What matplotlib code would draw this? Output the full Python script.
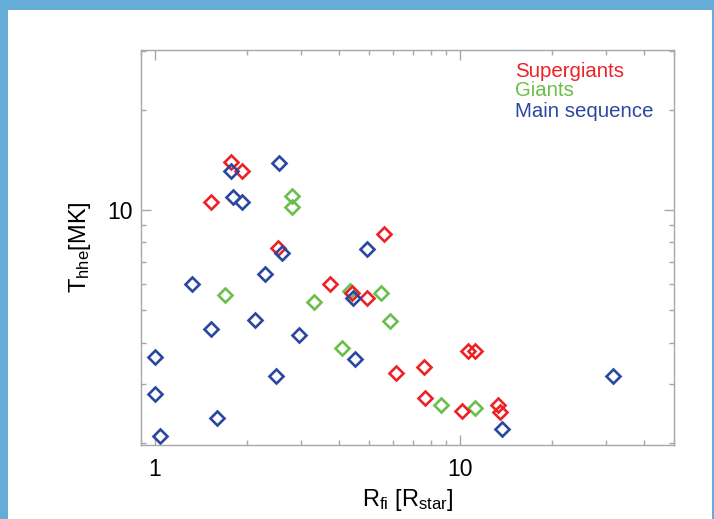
import matplotlib
matplotlib.use("Agg")
import matplotlib.pyplot as plt
from matplotlib.patches import Rectangle
from matplotlib.ticker import LogLocator, NullFormatter, FixedLocator, FixedFormatter

plt.rcParams['font.family'] = ['Liberation Sans', 'DejaVu Sans']
plt.rcParams['mathtext.fontset'] = 'custom'
plt.rcParams['mathtext.rm'] = 'Liberation Sans'
plt.rcParams['mathtext.it'] = 'Liberation Sans'

# ---- data ----
sg_r = [1.78, 1.92, 1.53, 5.60, 2.53, 3.73, 4.40, 4.96, 6.15, 7.61, 7.66, 10.62, 11.17, 10.13, 13.26, 13.49]
sg_t = [13.94, 13.12, 10.59, 8.47, 7.69, 6.01, 5.65, 5.45, 3.24, 3.38, 2.73, 3.77, 3.77, 2.50, 2.60, 2.47]

gi_r = [2.81, 2.81, 1.70, 4.35, 5.49, 3.31, 5.88, 4.10, 8.63, 11.17]
gi_t = [11.0, 10.19, 5.56, 5.70, 5.65, 5.30, 4.64, 3.86, 2.60, 2.54]

ms_r = [1.77, 2.55, 1.80, 1.92, 2.61, 4.96, 2.30, 1.32, 4.45, 2.12, 1.53, 2.97, 4.52, 1.00, 2.49, 1.00, 1.60, 1.04, 31.67, 13.66]
ms_t = [13.12, 13.87, 10.96, 10.57, 7.44, 7.64, 6.44, 5.98, 5.43, 4.67, 4.38, 4.20, 3.56, 3.62, 3.17, 2.80, 2.37, 2.10, 3.18, 2.20]

labels = ["Supergiants", "Giants", "Main sequence"]
RED = '#ec2227'
GREEN = '#6abf4b'
BLUE = '#2b48a0'

fig = plt.figure(figsize=(7.14, 5.19), dpi=100)
fig.patch.set_facecolor('#66acd9')
panel = Rectangle((8/714, 0), 704/714, 509/519, transform=fig.transFigure,
                  facecolor='white', edgecolor='none', zorder=-10)
fig.patches.append(panel)

ax = fig.add_axes([141/714, 1-445/519, 533/714, 395/519])
ax.set_facecolor('white')
ax.set_zorder(1)
ax.set_xscale('log')
ax.set_yscale('log')

mk = dict(marker='D', linestyle='none', markerfacecolor='none', markersize=6.8, markeredgewidth=1.9)
ax.plot(gi_r, gi_t, markeredgecolor=GREEN, **mk)
ax.plot(sg_r, sg_t, markeredgecolor=RED, **mk)
ax.plot(ms_r, ms_t, markeredgecolor=BLUE, **mk)

ax.set_xlim(0.9, 50)
ax.set_ylim(1.97, 30.2)

gray = '#a8a8a8'
for s in ax.spines.values():
    s.set_color(gray)
    s.set_linewidth(1.0)

ax.xaxis.set_major_locator(FixedLocator([1, 10]))
ax.xaxis.set_major_formatter(FixedFormatter(['1', '10']))
ax.xaxis.set_minor_locator(LogLocator(base=10, subs=range(2, 10)))
ax.xaxis.set_minor_formatter(NullFormatter())
ax.yaxis.set_major_locator(FixedLocator([10]))
ax.yaxis.set_major_formatter(FixedFormatter(['10']))
ax.yaxis.set_minor_locator(LogLocator(base=10, subs=range(2, 10)))
ax.yaxis.set_minor_formatter(NullFormatter())

ax.tick_params(which='both', direction='in', top=True, right=True, color=gray, width=1.0)
ax.tick_params(which='major', length=7.5, labelsize=16.5, labelcolor='black')
ax.tick_params(which='minor', length=3.6)
ax.tick_params(axis='x', which='major', pad=9)
ax.tick_params(axis='y', which='major', pad=6)

ax.set_xlabel(r'R$_{\rm fi}$ [R$_{\rm star}$]', fontsize=17, labelpad=5)
ax.set_ylabel(r'T$_{\rm hhe}$[MK]', fontsize=17, labelpad=10)

ys = [0.9324, 0.8843, 0.8296]
for lab, col, yy in zip(labels, [RED, GREEN, BLUE], ys):
    ax.text(0.7017, yy, lab, color=col, fontsize=14.7, transform=ax.transAxes,
            ha='left', va='baseline')

fig.savefig('out.png', dpi=100, facecolor=fig.get_facecolor())
